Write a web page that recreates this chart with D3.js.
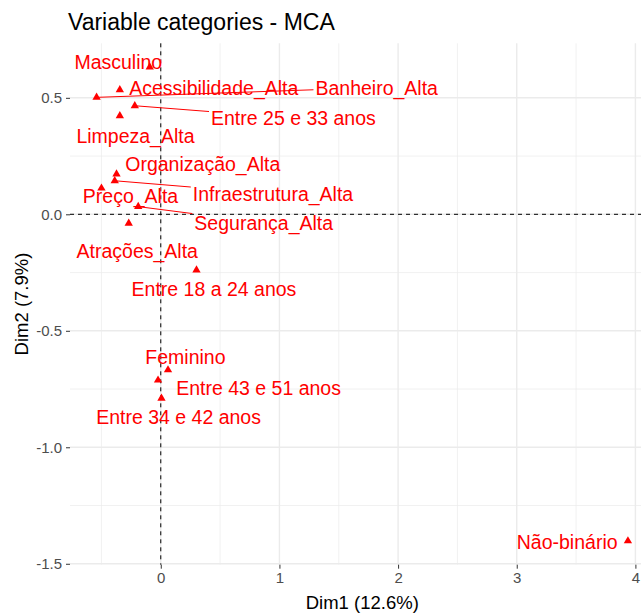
<!DOCTYPE html>
<html>
<head>
<meta charset="utf-8">
<script src="https://cdn.jsdelivr.net/npm/d3@7"></script>
<style>
  body { margin: 0; background: #fff; }
  svg { display: block; font-family: "Liberation Sans", Arial, sans-serif; }
</style>
</head>
<body>
<svg id="chart" width="641" height="613"></svg>
<script>
// categories and their coordinates on the first two MCA dimensions
var categories = ["Masculino", "Acessibilidade_Alta", "Banheiro_Alta", "Entre 25 e 33 anos",
  "Limpeza_Alta", "Organização_Alta", "Infraestrutura_Alta", "Preço_Alta", "Segurança_Alta",
  "Atrações_Alta", "Entre 18 a 24 anos", "Feminino", "Entre 43 e 51 anos", "Entre 34 e 42 anos",
  "Não-binário"];
var dim1 = [-0.093, -0.345, -0.541, -0.219, -0.345, -0.373, -0.388, -0.500, -0.190,
  -0.270, 0.301, 0.061, -0.023, 0.006, 3.937];
var dim2 = [0.632, 0.534, 0.502, 0.466, 0.423, 0.173, 0.144, 0.112, 0.033,
  -0.039, -0.239, -0.668, -0.712, -0.790, -1.402];
// where the repelled labels ended up (data units)
var labelDim1 = [-0.358, 0.447, 1.820, 1.118, -0.213, 0.354, 0.946, -0.255, 0.868,
  -0.198, 0.448, 0.208, 0.824, 0.150, 3.425];
var labelDim2 = [0.654, 0.542, 0.544, 0.413, 0.335, 0.214, 0.088, 0.077, -0.036,
  -0.157, -0.321, -0.611, -0.747, -0.869, -1.406];

var xTicks = [0, 1, 2, 3, 4];
var xMinor = [-0.5, 0.5, 1.5, 2.5, 3.5];
var yTicks = [-1.5, -1.0, -0.5, 0.0, 0.5];
var yMinor = [-1.25, -0.75, -0.25, 0.25];

var title = "Variable categories - MCA";
var xTitle = "Dim1 (12.6%)";
var yTitle = "Dim2 (7.9%)";

var svg = d3.select("#chart");
var x = d3.scaleLinear().domain([-0.765, 4.161]).range([70, 654.5]);
var y = d3.scaleLinear().domain([-1.504, 0.734]).range([564.7, 43.3]);
var pLeft = x.range()[0], pRight = x.range()[1];
var pTop = y.range()[1], pBottom = y.range()[0];

var grid = svg.append("g");
grid.selectAll(".vminor").data(xMinor).enter().append("line")
  .attr("x1", d => x(d)).attr("x2", d => x(d)).attr("y1", pTop).attr("y2", pBottom)
  .attr("stroke", "#ebebeb").attr("stroke-width", 0.7);
grid.selectAll(".hminor").data(yMinor).enter().append("line")
  .attr("y1", d => y(d)).attr("y2", d => y(d)).attr("x1", pLeft).attr("x2", pRight)
  .attr("stroke", "#ebebeb").attr("stroke-width", 0.7);
grid.selectAll(".vmajor").data(xTicks).enter().append("line")
  .attr("x1", d => x(d)).attr("x2", d => x(d)).attr("y1", pTop).attr("y2", pBottom)
  .attr("stroke", "#ebebeb").attr("stroke-width", 1.4);
grid.selectAll(".hmajor").data(yTicks).enter().append("line")
  .attr("y1", d => y(d)).attr("y2", d => y(d)).attr("x1", pLeft).attr("x2", pRight)
  .attr("stroke", "#ebebeb").attr("stroke-width", 1.4);

// reference lines at 0
svg.append("line").attr("x1", pLeft).attr("x2", pRight).attr("y1", y(0)).attr("y2", y(0))
  .attr("stroke", "#000").attr("stroke-dasharray", "4,4").attr("stroke-width", 1);
svg.append("line").attr("x1", x(0)).attr("x2", x(0)).attr("y1", pTop).attr("y2", pBottom)
  .attr("stroke", "#000").attr("stroke-dasharray", "4,4").attr("stroke-width", 1);

// axes
var xAxis = svg.append("g").attr("transform", "translate(0," + pBottom + ")")
  .call(d3.axisBottom(x).tickValues(xTicks).tickSize(4).tickPadding(4).tickFormat(d => d));
var yAxis = svg.append("g").attr("transform", "translate(" + pLeft + ",0)")
  .call(d3.axisLeft(y).tickValues(yTicks).tickSize(4).tickPadding(4).tickFormat(d => d.toFixed(1)));
[xAxis, yAxis].forEach(function (a) {
  a.select(".domain").remove();
  a.selectAll(".tick line").attr("stroke", "#333333");
  a.selectAll(".tick text").attr("fill", "#4d4d4d").style("font-size", "15px")
    .style("font-family", "'Liberation Sans', Arial, sans-serif");
});

var data = categories.map(function (c, i) {
  return { name: c, px: x(dim1[i]), py: y(dim2[i]), lx: x(labelDim1[i]), ly: y(labelDim2[i]) };
});

var segLayer = svg.append("g");

// labels, measured afterwards for the segments
var fontSize = 19.5;
var labels = svg.append("g").selectAll("text").data(data).enter().append("text")
  .attr("x", d => d.lx).attr("y", d => d.ly).attr("dy", "0.36em")
  .attr("text-anchor", "middle").attr("fill", "#ff0000")
  .style("font-size", fontSize + "px")
  .text(d => d.name);

labels.each(function (d) {
  var w = this.getComputedTextLength();
  d.box = { x0: d.lx - w / 2 - 2, x1: d.lx + w / 2 + 2, y0: d.ly - fontSize / 2 - 2, y1: d.ly + fontSize / 2 + 2 };
});

// segment from the point to where the line towards the label centre enters its box
var clip_to_box = function (d) {
  var dx = d.lx - d.px, dy = d.ly - d.py, t = 0;
  if (dx > 0) t = Math.max(t, (d.box.x0 - d.px) / dx);
  if (dx < 0) t = Math.max(t, (d.box.x1 - d.px) / dx);
  if (dy > 0) t = Math.max(t, (d.box.y0 - d.py) / dy);
  if (dy < 0) t = Math.max(t, (d.box.y1 - d.py) / dy);
  t = Math.min(t, 1);
  return [d.px + t * dx, d.py + t * dy];
};

var segs = data.map(function (d) {
  var e = clip_to_box(d);
  return { d: d, e: e, len: Math.hypot(e[0] - d.px, e[1] - d.py) };
}).filter(s => s.len > 30);

segLayer.selectAll("line").data(segs).enter().append("line")
  .attr("x1", s => s.d.px).attr("y1", s => s.d.py)
  .attr("x2", s => s.e[0]).attr("y2", s => s.e[1])
  .attr("stroke", "#ff0000").attr("stroke-width", 1);

svg.append("g").selectAll("path").data(data).enter().append("path")
  .attr("d", d3.symbol().type(d3.symbolTriangle).size(30))
  .attr("transform", d => "translate(" + d.px + "," + d.py + ")")
  .attr("fill", "#ff0000");

// titles
svg.append("text").attr("x", 68).attr("y", 30).style("font-size", "23px").attr("fill", "#000").text(title);
svg.append("text").attr("x", (pLeft + pRight) / 2).attr("y", 609).attr("text-anchor", "middle")
  .style("font-size", "18.5px").attr("fill", "#000").text(xTitle);
svg.append("text").attr("transform", "translate(28," + (pTop + pBottom) / 2 + ") rotate(-90)")
  .attr("text-anchor", "middle").style("font-size", "18.5px").attr("fill", "#000").text(yTitle);
</script>
</body>
</html>
